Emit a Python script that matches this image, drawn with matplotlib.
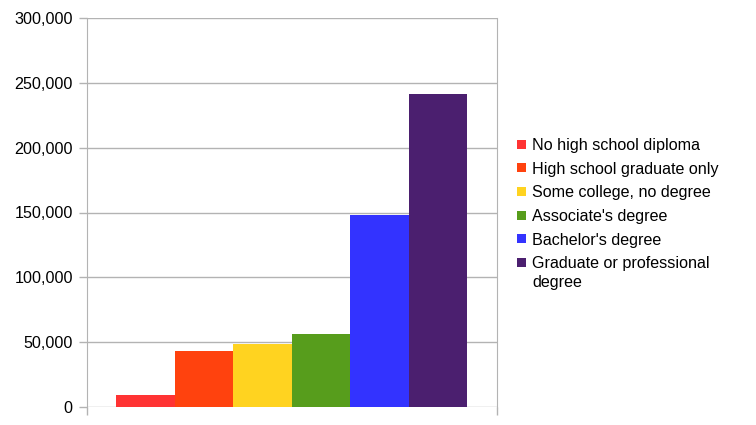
import matplotlib
matplotlib.use("Agg")
import matplotlib.pyplot as plt
from matplotlib.patches import Rectangle
from matplotlib.ticker import FuncFormatter

categories = ["No high school diploma", "High school graduate only",
              "Some college, no degree", "Associate's degree",
              "Bachelor's degree", "Graduate or professional\ndegree"]
values = [9500, 43500, 48900, 56400, 147700, 241000]
colors = ["#ff3333", "#ff420e", "#ffd320", "#579d1c", "#3333ff", "#4b1f6f"]

plt.rcParams["font.family"] = ["Liberation Sans", "DejaVu Sans"]

W, H = 756, 425
fig = plt.figure(figsize=(W / 100, H / 100), dpi=100)
ax = fig.add_axes([86.7 / W, 1 - 407.3 / H, (496.5 - 86.7) / W, (407.3 - 17.7) / H])

positions = list(range(len(values)))
ax.bar(positions, values, width=1.0, align="edge", color=colors, edgecolor="none")

ax.set_xlim(-0.5, 6.5)
ax.set_ylim(0, 300000)
ax.set_yticks(range(0, 300001, 50000))
ax.yaxis.set_major_formatter(FuncFormatter(lambda v, p: f"{int(v):,}"))
ax.set_xticks([-0.5, 6.5])
ax.set_xticklabels([])

grid_c = "#b3b3b3"
ax.grid(axis="y", color=grid_c, linewidth=1)
ax.set_axisbelow(True)
for s in ["top", "bottom"]:
    ax.spines[s].set_visible(False)
ax.spines["left"].set_color(grid_c)
ax.spines["right"].set_color(grid_c)
ax.tick_params(axis="y", length=5.5, color=grid_c, width=1, labelsize=11.6, pad=4.5)
ax.tick_params(axis="x", length=6, color=grid_c, width=1)

# legend drawn by hand so the marker sits on the first line of wrapped labels
row_y0, row_step, line_step = 144.3, 23.6, 18.4
for i, (label, c) in enumerate(zip(categories, colors)):
    cy = row_y0 + i * row_step
    fig.patches.append(Rectangle((517.3 / W, 1 - (cy + 4.5) / H), 9 / W, 9 / H,
                                 transform=fig.transFigure, facecolor=c, edgecolor="none"))
    for j, line in enumerate(label.split("\n")):
        fig.text(532 / W, 1 - (cy + j * line_step) / H, line, fontsize=11.6,
                 va="center_baseline", ha="left")

fig.savefig("out.png", dpi=100)
